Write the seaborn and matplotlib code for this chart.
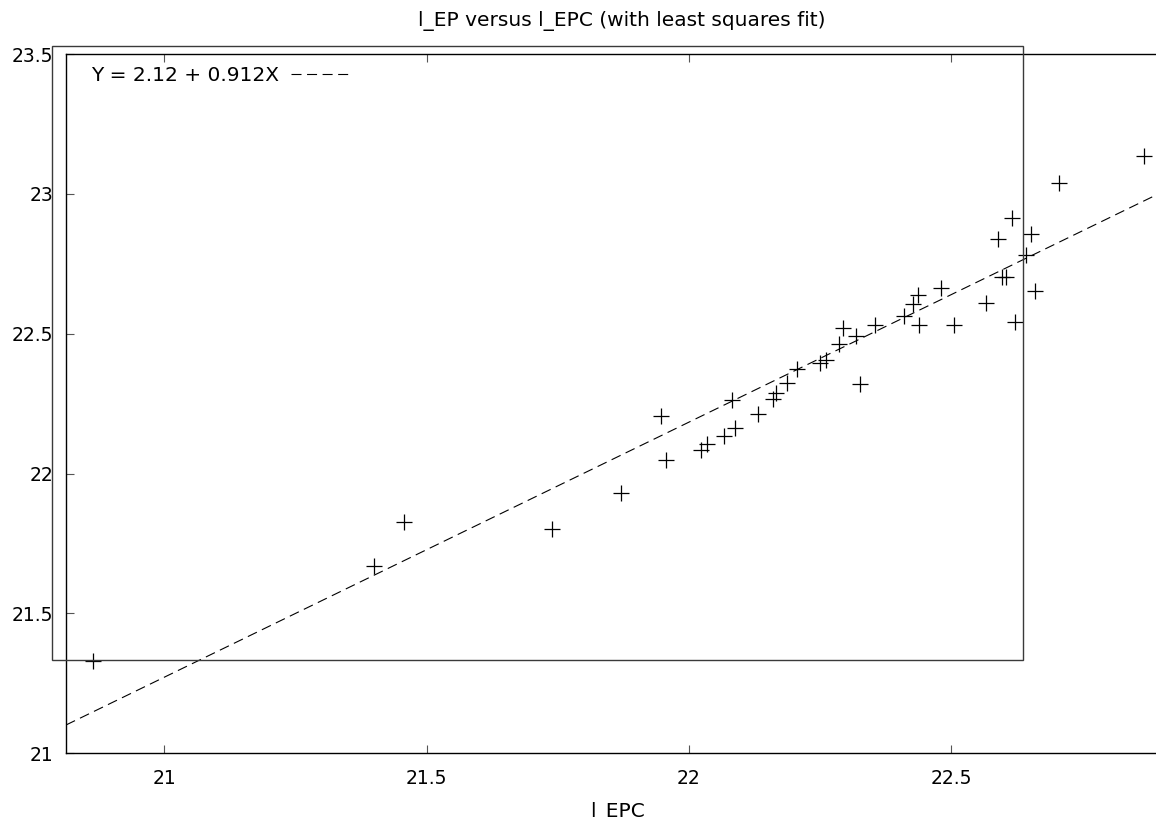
import numpy as np
import pandas as pd
import matplotlib
matplotlib.use("Agg")
import matplotlib.pyplot as plt
from matplotlib.patches import Rectangle
import seaborn as sns

# Observations: log EPC (x) and log EP (y)
l_EPC = [20.864, 21.400, 21.456, 21.739, 21.870, 21.946, 21.956, 22.022, 22.034,
         22.067, 22.081, 22.088, 22.132, 22.161, 22.166, 22.187, 22.205, 22.250,
         22.261, 22.286, 22.294, 22.318, 22.325, 22.354, 22.410, 22.426, 22.437,
         22.439, 22.480, 22.505, 22.566, 22.588, 22.597, 22.604, 22.615, 22.621,
         22.642, 22.651, 22.659, 22.705, 22.867]
l_EP = [21.331, 21.669, 21.827, 21.802, 21.931, 22.205, 22.050, 22.086, 22.107,
        22.134, 22.262, 22.163, 22.214, 22.268, 22.288, 22.324, 22.375, 22.395,
        22.405, 22.464, 22.520, 22.492, 22.319, 22.530, 22.562, 22.607, 22.637,
        22.530, 22.664, 22.532, 22.611, 22.837, 22.702, 22.702, 22.913, 22.541,
        22.783, 22.855, 22.651, 23.039, 23.137]

# Least squares coefficients
intercept = 2.12
slope = 0.912

x_ticks = [21, 21.5, 22, 22.5]
x_tick_labels = ["21", "21.5", "22", "22.5"]
y_ticks = [21, 21.5, 22, 22.5, 23, 23.5]
y_tick_labels = ["21", "21.5", "22", "22.5", "23", "23.5"]
x_range = (20.8127, 22.890)
y_range = (21.0, 23.5)

W, H = 1156, 819
sns.set_theme(style="white")
plt.rcParams["font.family"] = ["DejaVu Sans"]
plt.rcParams["text.color"] = "black"

fig = plt.figure(figsize=(W / 100, H / 100), dpi=100)
ax = fig.add_axes([66 / W, (H - 753.3) / H, (W - 66) / W, (753.3 - 54) / H])

df = pd.DataFrame({"l_EPC": l_EPC, "l_EP": l_EP})
sns.scatterplot(data=df, x="l_EPC", y="l_EP", marker="+", s=120, color="black",
                linewidth=0.9, ax=ax, legend=False, zorder=3)

fit_x = np.array(x_range)
fit = pd.DataFrame({"x": fit_x, "y": intercept + slope * fit_x})
sns.lineplot(data=fit, x="x", y="y", color="black", linewidth=0.8,
             dashes=False, ax=ax, label=f"Y = {intercept:.2f} + {slope:.3f}X")
ax.lines[-1].set_dashes((9, 5))

ax.set_xlim(*x_range)
ax.set_ylim(*y_range)
ax.set_xticks(x_ticks)
ax.set_xticklabels(x_tick_labels)
ax.set_yticks(y_ticks)
ax.set_yticklabels(y_tick_labels)
ax.tick_params(axis="x", direction="in", length=6, width=0.8, color="#555555",
               top=True, bottom=True, labelsize=13.5, pad=11, labelcolor="black")
ax.tick_params(axis="y", direction="in", length=6, width=0.8, color="#555555",
               left=True, right=False, labelsize=13.5, pad=9, labelcolor="black")
for side in ["left", "bottom", "top"]:
    ax.spines[side].set_color("black")
    ax.spines[side].set_linewidth(1.0)
ax.spines["right"].set_visible(False)
ax.set_xlabel("")
ax.set_ylabel("")

leg = ax.legend(loc="upper left", bbox_to_anchor=(0.012, 1.0), frameon=False,
                markerfirst=False, fontsize=14.5, handlelength=2.8,
                handletextpad=0.6, borderaxespad=0.2)
for t in leg.get_texts():
    t.set_color("black")

fig.text(622 / W, 1 - 21 / H, "l_EP versus l_EPC (with least squares fit)",
         ha="center", va="center", fontsize=14.5, color="black")
fig.text(618 / W, 2 / H, "l_EPC", ha="center", va="baseline", fontsize=14.5,
         color="black")

# Outer frame box
fig.patches.append(Rectangle((52.3 / W, 1 - 660 / H), (1022.7 - 52.3) / W,
                             (660 - 46) / H, transform=fig.transFigure,
                             fill=False, edgecolor="#3a3a3a", linewidth=1.0,
                             zorder=5))

fig.savefig("out.png", dpi=100)
